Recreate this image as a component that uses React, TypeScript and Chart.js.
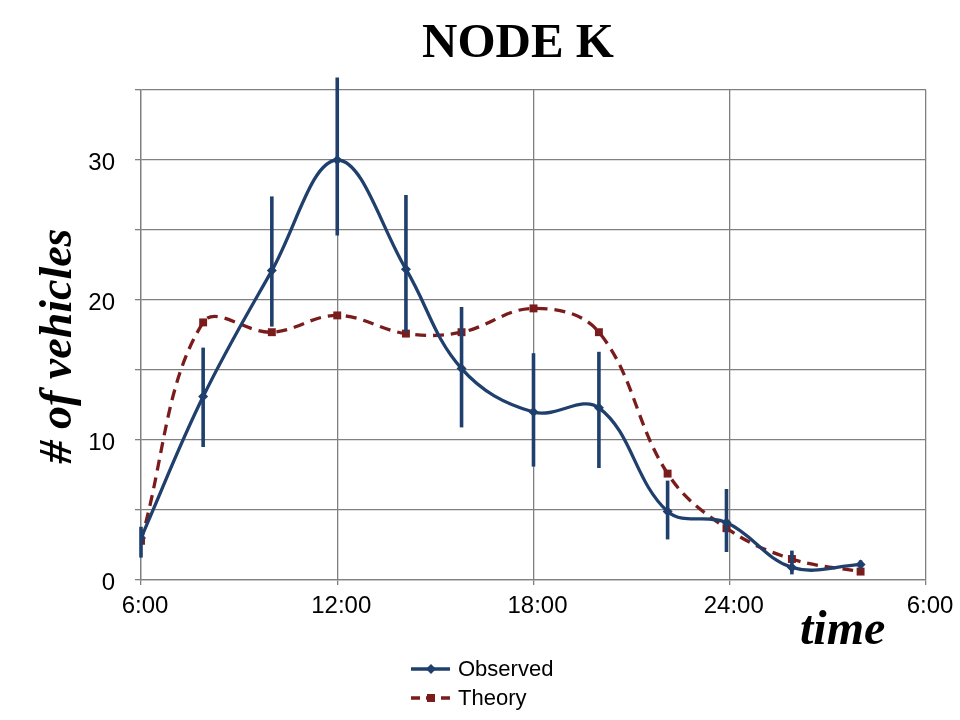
import { useEffect, useRef } from "react";
import { Chart, registerables } from "chart.js";

Chart.register(...registerables);

const titleText = "NODE K";
const yAxisTitle = "# of vehicles";
const xAxisTitle = "time";
const seriesNames = ["Observed", "Theory"];

// time of day in hours (6 = 6:00, 30 = 6:00 next day)
const hours = [6, 7.9, 10, 12, 14.1, 15.8, 18, 20, 22.1, 23.9, 25.9, 28];
const observed = [3.0, 13.1, 22.1, 30.0, 22.2, 15.1, 12.0, 12.3, 4.9, 4.1, 0.9, 1.1];
const observedLow = [1.6, 9.5, 18.1, 24.6, 17.7, 10.9, 8.1, 8.0, 2.9, 2.0, 0.4, 0.8];
const observedHigh = [3.8, 16.6, 27.4, 35.9, 27.5, 19.5, 16.2, 16.3, 7.1, 6.5, 2.1, 1.4];
const theory = [2.8, 18.4, 17.7, 18.9, 17.6, 17.7, 19.4, 17.7, 7.6, 3.7, 1.5, 0.6];

const xTickValues = [6, 12, 18, 24, 30];
const xTickLabels = ["6:00", "12:00", "18:00", "24:00", "6:00"];
const yLabelledTicks = [0, 10, 20, 30];

const OBS_COLOR = "#1f3f6d";
const THEORY_COLOR = "#7a1c1c";
const GRID_COLOR = "#808080";

const errorBarPlugin = {
  id: "errorBars",
  afterDatasetsDraw(chart: any) {
    const { ctx, scales } = chart;
    const x = scales.x;
    const y = scales.y;
    ctx.save();
    ctx.strokeStyle = OBS_COLOR;
    ctx.lineWidth = 3.6;
    hours.forEach((h, i) => {
      const px = x.getPixelForValue(h);
      ctx.beginPath();
      ctx.moveTo(px, y.getPixelForValue(observedLow[i]));
      ctx.lineTo(px, y.getPixelForValue(observedHigh[i]));
      ctx.stroke();
    });
    ctx.restore();
  },
};

const textPlugin = {
  id: "texts",
  afterDraw(chart: any) {
    const { ctx } = chart;
    ctx.save();
    ctx.fillStyle = "#000";
    // title
    ctx.font = 'bold 49px "Liberation Serif", "Times New Roman", serif';
    ctx.textAlign = "center";
    ctx.textBaseline = "alphabetic";
    ctx.fillText(titleText, 518, 57);
    // y axis title
    ctx.save();
    ctx.translate(71, 346);
    ctx.rotate(-Math.PI / 2);
    ctx.font = 'italic bold 46px "Liberation Serif", "Times New Roman", serif';
    ctx.textAlign = "center";
    ctx.fillText(yAxisTitle, 0, 0);
    ctx.restore();
    // x axis title
    ctx.font = 'italic bold 48px "Liberation Serif", "Times New Roman", serif';
    ctx.textAlign = "left";
    ctx.fillText(xAxisTitle, 800, 644);

    // legend
    const rows = [
      { y: 669, base: 676 },
      { y: 698, base: 705 },
    ];
    chart.data.datasets.forEach((ds: any, i: number) => {
      const r = rows[i];
      ctx.save();
      ctx.strokeStyle = ds.borderColor;
      ctx.fillStyle = ds.borderColor;
      ctx.lineWidth = 3.3;
      if (ds.borderDash && ds.borderDash.length) ctx.setLineDash([9, 6]);
      ctx.beginPath();
      ctx.moveTo(411, r.y);
      ctx.lineTo(450, r.y);
      ctx.stroke();
      ctx.setLineDash([]);
      ctx.beginPath();
      if (ds.pointStyle === "rectRot") {
        ctx.moveTo(431, r.y - 5);
        ctx.lineTo(436, r.y);
        ctx.lineTo(431, r.y + 5);
        ctx.lineTo(426, r.y);
        ctx.closePath();
      } else {
        ctx.rect(427, r.y - 4, 8, 8);
      }
      ctx.fill();
      ctx.restore();
      ctx.font = '22px "Liberation Sans", Arial, sans-serif';
      ctx.fillStyle = "#000";
      ctx.textAlign = "left";
      ctx.textBaseline = "alphabetic";
      ctx.fillText(ds.label, 458, r.base);
    });
    ctx.restore();
  },
};

export default function App() {
  const canvasRef = useRef<HTMLCanvasElement | null>(null);

  useEffect(() => {
    if (!canvasRef.current) return;
    const chart = new Chart(canvasRef.current, {
      type: "line",
      data: {
        datasets: [
          {
            label: seriesNames[0],
            data: hours.map((h, i) => ({ x: h, y: observed[i] })),
            borderColor: OBS_COLOR,
            backgroundColor: OBS_COLOR,
            borderWidth: 3.3,
            tension: 0.38,
            pointStyle: "rectRot",
            pointRadius: 5,
            pointBorderWidth: 0,
            fill: false,
          },
          {
            label: seriesNames[1],
            data: hours.map((h, i) => ({ x: h, y: theory[i] })),
            borderColor: THEORY_COLOR,
            backgroundColor: THEORY_COLOR,
            borderWidth: 3.3,
            borderDash: [11, 7],
            tension: 0.38,
            pointStyle: "rect",
            pointRadius: 5.6,
            pointBorderWidth: 0,
            fill: false,
          },
        ],
      },
      options: {
        animation: false,
        responsive: false,
        devicePixelRatio: 1,
        layout: { padding: { top: 90, right: 34, left: 0, bottom: 0 } },
        plugins: {
          legend: { display: false },
          title: { display: false },
          tooltip: { enabled: false },
        },
        scales: {
          x: {
            type: "linear",
            min: 6,
            max: 30,
            afterBuildTicks: (scale: any) => {
              scale.ticks = xTickValues.map((v) => ({ value: v }));
            },
            afterFit: (scale: any) => {
              scale.height = 140;
            },
            grid: { color: GRID_COLOR, lineWidth: 1.3, tickLength: 5 },
            border: { display: true, color: GRID_COLOR, width: 1.3 },
            ticks: {
              autoSkip: false,
              maxRotation: 0,
              padding: 7,
              labelOffset: 4,
              color: "#000",
              font: { family: '"Liberation Sans", Arial, sans-serif', size: 24 },
              callback: (value: any) => {
                const i = xTickValues.indexOf(Number(value));
                return i >= 0 ? xTickLabels[i] : "";
              },
            },
          },
          y: {
            min: 0,
            max: 35,
            afterFit: (scale: any) => {
              scale.width = 141;
            },
            grid: { color: GRID_COLOR, lineWidth: 1.3, tickLength: 6 },
            border: { display: true, color: GRID_COLOR, width: 1.3 },
            ticks: {
              stepSize: 5,
              autoSkip: false,
              padding: 20,
              labelOffset: 3,
              color: "#000",
              font: { family: '"Liberation Sans", Arial, sans-serif', size: 24 },
              callback: (value: any) =>
                yLabelledTicks.includes(Number(value)) ? String(value) : "",
            },
          },
        },
      },
      plugins: [errorBarPlugin, textPlugin],
    });
    return () => chart.destroy();
  }, []);

  return (
    <div style={{ position: "absolute", left: 0, top: 0, width: 960, height: 720, background: "#fff" }}>
      <canvas ref={canvasRef} width={960} height={720} style={{ display: "block" }} />
    </div>
  );
}
